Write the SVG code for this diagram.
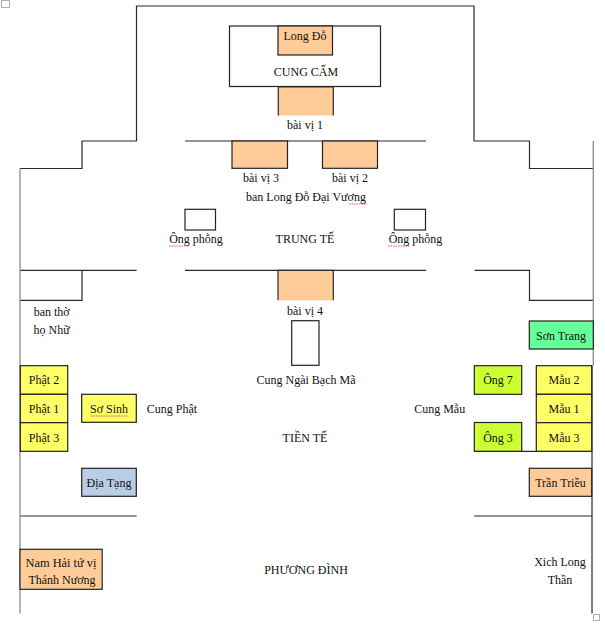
<svg xmlns="http://www.w3.org/2000/svg" width="605" height="631" viewBox="0 0 605 631">
<style>
  .wall{fill:none;stroke:#2a2a2a;stroke-width:1.2}
  .outer{fill:none;stroke:#8a8a8a;stroke-width:1.3}
  .box{stroke:#222;stroke-width:1.2}
  .or{fill:#FFCC99}
  .ye{fill:#FFFF66}
  .lg{fill:#CCFF33}
  .gr{fill:#66FF99}
  .bl{fill:#B9CDE5}
  .wh{fill:#ffffff}
  text{font-family:"Liberation Serif","Times New Roman",serif;font-size:12px;fill:#111;text-anchor:middle}
  .sq{fill:none;stroke:#b0b0b0;stroke-width:1}
  .spell{fill:none;stroke:#e03030;stroke-width:0.8;stroke-dasharray:1.5 1}
</style>
<rect width="605" height="631" fill="#ffffff"/>
<rect class="sq" x="1.5" y="0.5" width="8" height="7"/>
<rect class="sq" x="593.5" y="614.5" width="6" height="6"/>

<g id="walls">
  <path class="wall" d="M20,168.5 H82 V141 H136.5 V6 H474 V141 H529.5 V168.5 H593"/>
  <path class="wall" d="M185,141 H426"/>
  <path class="wall" d="M20,270.3 H136.6"/>
  <path class="wall" d="M82,270.3 V300.3 H20"/>
  <path class="wall" d="M185,270.3 H426"/>
  <path class="wall" d="M474.5,270.3 H529.5 V300.3 H593"/>
  <path class="wall" d="M20,516 H136.6"/>
  <path class="wall" d="M474,516 H592"/>
  <path class="wall" d="M474.3,451.3 H592"/>
  <path class="wall" d="M592,365.7 V613.5"/>
  <path class="outer" d="M20,168.5 V613.5"/>
  <path class="outer" d="M593.3,141 V365.7"/>
</g>

<g id="connectors"></g>

<g id="cung-cam">
  <rect class="box wh" x="229.5" y="26" width="151" height="60.5"/>
  <text x="306" y="76">CUNG CẤM</text>
</g>
<g id="long-do">
  <rect class="box or" x="278" y="26" width="54.5" height="29"/>
  <text x="305" y="40">Long Đỗ</text>
</g>
<g id="bai-vi-1">
  <rect class="or" x="278.3" y="87" width="55" height="28.5"/>
  <path class="wall" d="M278.3,115.5 V87 H333.3 V115.5"/>
  <text x="305" y="129">bài vị 1</text>
</g>
<g id="bai-vi-3">
  <rect class="box or" x="232" y="141" width="55.5" height="27.3"/>
  <text x="261" y="182">bài vị 3</text>
</g>
<g id="bai-vi-2">
  <rect class="box or" x="322.5" y="141" width="55" height="27.3"/>
  <text x="350" y="182">bài vị 2</text>
</g>
<g id="ban-long-do">
  <text x="306" y="201">ban Long Đỗ Đại Vương</text>
  <path class="spell" d="M349,204 H367"/>
</g>
<g id="ong-phong-trai">
  <rect class="box wh" x="185" y="209.3" width="30.5" height="20.7"/>
  <text x="196" y="243">Ông phỗng</text>
  <path class="spell" d="M169,246 H189"/>
</g>
<g id="trung-te">
  <text x="305" y="243">TRUNG TẾ</text>
</g>
<g id="ong-phong-phai">
  <rect class="box wh" x="394.3" y="209.3" width="31.2" height="20.7"/>
  <text x="415.5" y="243">Ông phỗng</text>
  <path class="spell" d="M388,246 H409"/>
</g>
<g id="bai-vi-4">
  <rect class="or" x="278" y="270.3" width="55.3" height="30"/>
  <path class="wall" d="M278,300.3 V270.3 H333.3 V300.3"/>
  <text x="305" y="315">bài vị 4</text>
</g>
<g id="ban-tho-ho-nhu">
  <text x="51.7" y="316">ban thờ</text>
  <text x="51.7" y="334">họ Nhữ</text>
</g>
<g id="bach-ma">
  <rect class="box wh" x="291.7" y="320.7" width="27.3" height="44.6"/>
  <text x="306" y="384">Cung Ngài Bạch Mã</text>
</g>
<g id="phat-2">
  <rect class="box ye" x="20.3" y="365.7" width="47.4" height="28.6"/>
  <text x="44" y="384">Phật 2</text>
</g>
<g id="phat-1">
  <rect class="box ye" x="20.3" y="394.3" width="47.4" height="28.4"/>
  <text x="44" y="413">Phật 1</text>
</g>
<g id="phat-3">
  <rect class="box ye" x="20.3" y="422.7" width="47.4" height="28.6"/>
  <text x="44" y="441.5">Phật 3</text>
</g>
<g id="so-sinh">
  <rect class="box ye" x="81.7" y="394.3" width="54.6" height="28"/>
  <text x="109" y="413">Sơ Sinh</text>
  <path class="spell" d="M91,416 H129"/>
</g>
<g id="cung-phat">
  <text x="172" y="413">Cung Phật</text>
</g>
<g id="tien-te">
  <text x="305" y="441.5">TIỀN TẾ</text>
</g>
<g id="dia-tang">
  <rect class="box bl" x="81.7" y="468.3" width="54.6" height="28"/>
  <text x="109" y="487">Địa Tạng</text>
</g>
<g id="son-trang">
  <rect class="box gr" x="529.3" y="321" width="64" height="28"/>
  <text x="561" y="340">Sơn Trang</text>
</g>
<g id="cung-mau">
  <text x="439.7" y="413">Cung Mẫu</text>
</g>
<g id="ong-7">
  <rect class="box lg" x="474.3" y="365.7" width="47.4" height="28.6"/>
  <text x="498" y="384">Ông 7</text>
</g>
<g id="ong-3">
  <rect class="box lg" x="474.3" y="422.5" width="47.4" height="28.8"/>
  <text x="498" y="441.5">Ông 3</text>
</g>
<g id="mau-2">
  <rect class="box ye" x="536.3" y="365.7" width="55.4" height="28.6"/>
  <text x="564" y="384">Mẫu 2</text>
</g>
<g id="mau-1">
  <rect class="box ye" x="536.3" y="394.3" width="55.4" height="28.4"/>
  <text x="564" y="413">Mẫu 1</text>
</g>
<g id="mau-3">
  <rect class="box ye" x="536.3" y="422.7" width="55.4" height="28.6"/>
  <text x="564" y="441.5">Mẫu 3</text>
</g>
<g id="tran-trieu">
  <rect class="box or" x="529.3" y="468.3" width="62.4" height="28"/>
  <text x="560.5" y="487">Trần Triều</text>
</g>
<g id="nam-hai">
  <rect class="box or" x="20" y="549.3" width="82.2" height="40"/>
  <text x="61" y="566.5" textLength="71" lengthAdjust="spacingAndGlyphs">Nam Hải tứ vị</text>
  <text x="62" y="584">Thánh Nương</text>
</g>
<g id="phuong-dinh">
  <text x="306" y="574">PHƯƠNG ĐÌNH</text>
</g>
<g id="xich-long">
  <text x="560" y="566">Xich Long</text>
  <text x="560" y="584">Thần</text>
</g>
</svg>
